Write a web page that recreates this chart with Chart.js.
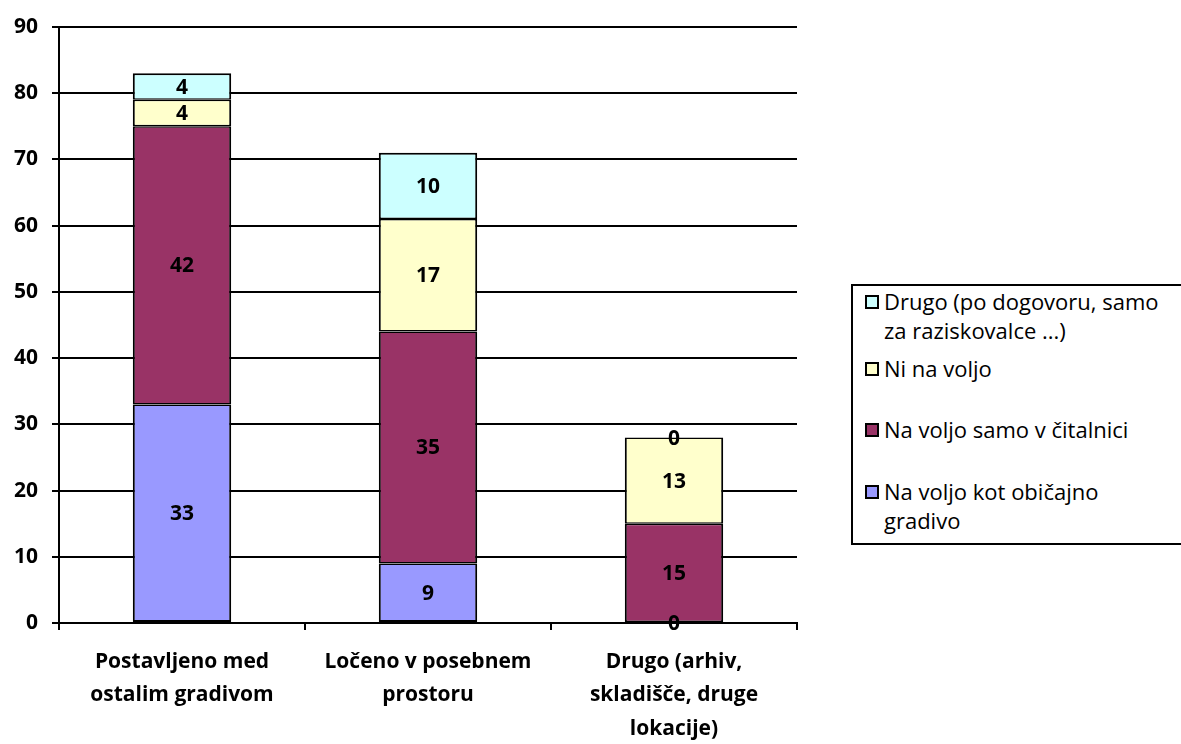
<!DOCTYPE html>
<html>
<head>
<meta charset="utf-8">
<script src="https://cdn.jsdelivr.net/npm/chart.js@4/dist/chart.umd.min.js"></script>
<style>
  html, body { margin: 0; padding: 0; background: #fff; overflow: hidden; }
  #wrap { position: relative; width: 1181px; height: 744px; overflow: hidden; }
  #legend {
    position: absolute; left: 851px; top: 284px; width: 345px; height: 261px;
    border: 2px solid #000; box-sizing: border-box; background: #fff;
    font-family: "Open Sans", Lato, sans-serif; font-size: 22px; color: #000;
  }
  .item { position: absolute; left: 12px; width: 330px; line-height: 29px; }
  .sw {
    position: absolute; left: 0; top: 8px; width: 10px; height: 10px;
    border: 2px solid #000;
  }
  .txt { margin-left: 19px; display: block; width: 286px; }
</style>
</head>
<body>
<div id="wrap">
  <canvas id="c" width="1181" height="744"></canvas>
  <div id="legend"></div>
</div>
<script>
// Categories (placement of the material) and the four stacked series
const categories = [
  ["Postavljeno med", "ostalim gradivom"],
  ["Ločeno v posebnem", "prostoru"],
  ["Drugo (arhiv,", "skladišče, druge", "lokacije)"]
];
const seriesNames = [
  "Na voljo kot običajno gradivo",
  "Na voljo samo v čitalnici",
  "Ni na voljo",
  "Drugo (po dogovoru, samo za raziskovalce ...)"
];
const kotObicajno = [33, 9, 0];
const vCitalnici = [42, 35, 15];
const niNaVoljo = [4, 17, 13];
const drugo = [4, 10, 0];
const yTicks = [0, 10, 20, 30, 40, 50, 60, 70, 80, 90];

const colors = ["#9999FF", "#993366", "#FFFFCC", "#CCFFFF"];
const seriesValues = [kotObicajno, vCitalnici, niNaVoljo, drugo];

const FONT = '"Open Sans", Lato, sans-serif';
const WEIGHT = "bold";
const SIZE = 21;

// Writes each segment's value in the middle of its bar piece
const valueLabels = {
  id: "valueLabels",
  afterDatasetsDraw(chart) {
    const ctx = chart.ctx;
    ctx.save();
    ctx.font = WEIGHT + " " + SIZE + "px " + FONT;
    ctx.fillStyle = "#000";
    ctx.textAlign = "center";
    ctx.textBaseline = "middle";
    chart.data.datasets.forEach((ds, i) => {
      const meta = chart.getDatasetMeta(i);
      meta.data.forEach((bar, j) => {
        const y = (bar.y + bar.base) / 2;
        ctx.fillText(String(ds.data[j]), bar.x, y + 1);
      });
    });
    ctx.restore();
  }
};

const lastSeries = seriesNames.length - 1;

const chart = new Chart(document.getElementById("c"), {
  type: "bar",
  data: {
    labels: categories,
    datasets: seriesNames.map((name, i) => ({
      label: name,
      data: seriesValues[i],
      backgroundColor: colors[i],
      borderColor: "#000",
      // shared edges between stacked pieces add up to one dark line
      borderWidth: {
        left: 2, right: 2,
        top: i === lastSeries ? 2 : 1.5,
        bottom: i === 0 ? 2 : 1.5
      },
      borderSkipped: false,
      barPercentage: 0.4,
      categoryPercentage: 1
    }))
  },
  options: {
    responsive: false,
    animation: false,
    layout: { padding: { top: 27, right: 384, left: 0, bottom: 0 } },
    plugins: { legend: { display: false }, tooltip: { enabled: false } },
    scales: {
      x: {
        stacked: true,
        offset: true,
        afterFit(scale) { scale.height = 121; },
        border: { color: "#000", width: 2 },
        grid: {
          display: true, drawOnChartArea: false, drawTicks: true,
          tickLength: 7, color: "#000", lineWidth: 2, offset: true
        },
        ticks: {
          color: "#000", padding: 15, maxRotation: 0,
          font: { family: FONT, size: SIZE, weight: WEIGHT, lineHeight: 1.6 }
        }
      },
      y: {
        stacked: true,
        min: 0, max: 90,
        afterFit(scale) { scale.width = 59; },
        afterBuildTicks(scale) { scale.ticks = yTicks.map(v => ({ value: v })); },
        border: { color: "#000", width: 2 },
        grid: { color: "#000", lineWidth: 2, tickLength: 7 },
        ticks: {
          color: "#000", padding: 14,
          font: { family: FONT, size: SIZE, weight: WEIGHT }
        }
      }
    }
  },
  plugins: [valueLabels]
});

// Legend: top series first, each in its own fixed slot
const legend = document.getElementById("legend");
const slotTops = [1, 68, 129, 191];
[3, 2, 1, 0].forEach((idx, k) => {
  const item = document.createElement("div");
  item.className = "item";
  item.style.top = slotTops[k] + "px";
  const sw = document.createElement("span");
  sw.className = "sw";
  sw.style.background = colors[idx];
  const t = document.createElement("span");
  t.className = "txt";
  t.textContent = seriesNames[idx];
  item.appendChild(sw);
  item.appendChild(t);
  legend.appendChild(item);
});
</script>
</body>
</html>
